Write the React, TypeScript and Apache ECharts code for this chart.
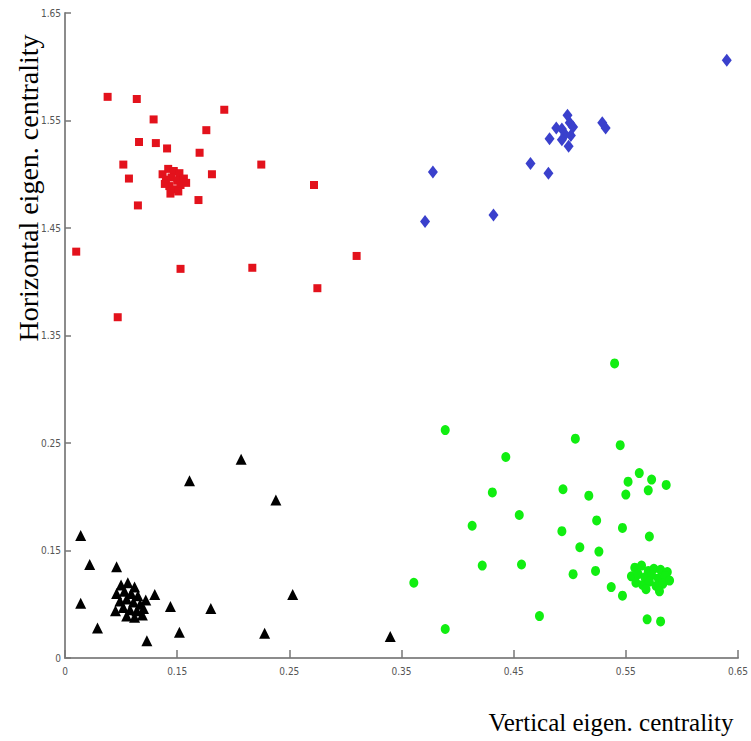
import React, { useEffect, useRef } from "react";
import * as echarts from "echarts";

// Values in real units: [vertical eigen. centrality, horizontal eigen. centrality]
const redSquares: number[][] = [
  [0.088, 1.572], [0.114, 1.570], [0.192, 1.560], [0.129, 1.551], [0.176, 1.541],
  [0.116, 1.530], [0.131, 1.529], [0.141, 1.524], [0.170, 1.520], [0.102, 1.509],
  [0.225, 1.509], [0.107, 1.496], [0.181, 1.500], [0.272, 1.490], [0.115, 1.471],
  [0.169, 1.476], [0.060, 1.428], [0.153, 1.412], [0.217, 1.413], [0.275, 1.394],
  [0.097, 1.367], [0.310, 1.424],
  [0.137, 1.500], [0.142, 1.505], [0.147, 1.503], [0.152, 1.501], [0.140, 1.495],
  [0.145, 1.497], [0.150, 1.494], [0.156, 1.496], [0.143, 1.489], [0.148, 1.486],
  [0.153, 1.490], [0.158, 1.492], [0.144, 1.482], [0.151, 1.484], [0.139, 1.491],
];

const blueDiamonds: number[][] = [
  [0.640, 1.606], [0.498, 1.555], [0.500, 1.548], [0.488, 1.543], [0.493, 1.542],
  [0.503, 1.544], [0.496, 1.537], [0.501, 1.536], [0.493, 1.532], [0.499, 1.526],
  [0.482, 1.533], [0.529, 1.548], [0.532, 1.543], [0.465, 1.510], [0.481, 1.501],
  [0.378, 1.502], [0.371, 1.456], [0.432, 1.462],
];

const blackTriangles: number[][] = [
  [0.207, 0.235], [0.161, 0.215], [0.238, 0.197], [0.064, 0.164], [0.072, 0.137],
  [0.096, 0.135], [0.064, 0.101], [0.130, 0.109], [0.144, 0.098], [0.180, 0.096],
  [0.253, 0.109], [0.079, 0.078], [0.152, 0.074], [0.123, 0.066], [0.228, 0.073],
  [0.340, 0.070],
  [0.100, 0.118], [0.106, 0.120], [0.112, 0.116], [0.096, 0.110], [0.103, 0.112],
  [0.109, 0.110], [0.115, 0.108], [0.099, 0.103], [0.105, 0.105], [0.111, 0.102],
  [0.117, 0.100], [0.102, 0.097], [0.108, 0.095], [0.114, 0.094], [0.120, 0.096],
  [0.105, 0.089], [0.112, 0.088], [0.119, 0.090], [0.095, 0.094], [0.122, 0.104],
];

const greenCircles: number[][] = [
  [0.540, 0.324], [0.389, 0.262], [0.505, 0.254], [0.545, 0.248], [0.443, 0.237],
  [0.562, 0.222], [0.552, 0.214], [0.573, 0.216], [0.586, 0.211], [0.570, 0.206],
  [0.550, 0.202], [0.431, 0.204], [0.494, 0.207], [0.517, 0.201], [0.455, 0.183],
  [0.413, 0.173], [0.524, 0.178], [0.547, 0.171], [0.493, 0.168], [0.571, 0.163],
  [0.509, 0.153], [0.526, 0.149], [0.422, 0.136], [0.457, 0.137], [0.503, 0.128],
  [0.523, 0.131], [0.537, 0.116], [0.547, 0.108], [0.361, 0.120], [0.473, 0.089],
  [0.389, 0.077], [0.569, 0.086], [0.581, 0.084],
  [0.558, 0.134], [0.564, 0.136], [0.570, 0.131], [0.575, 0.133], [0.581, 0.132],
  [0.587, 0.130], [0.555, 0.126], [0.561, 0.128], [0.567, 0.125], [0.573, 0.127],
  [0.579, 0.124], [0.585, 0.126], [0.559, 0.120], [0.565, 0.118], [0.571, 0.121],
  [0.577, 0.117], [0.583, 0.119], [0.589, 0.122], [0.568, 0.114], [0.580, 0.112],
];

const xAxisTitle = "Vertical eigen. centrality";
const yAxisTitle = "Horizontal eigen. centrality";

// The vertical axis is broken: values above 1 are drawn shifted down by 1.
const BREAK_OFFSET = 1;
const toPlot = (pts: number[][]) =>
  pts.map(([x, y]) => [x, y > BREAK_OFFSET ? y - BREAK_OFFSET : y]);

const tickFont = {
  fontFamily: "'Liberation Sans Narrow', 'DejaVu Sans Condensed', 'Liberation Sans', sans-serif",
  fontSize: 10,
  color: "#555",
};

export default function App() {
  const ref = useRef<HTMLDivElement>(null);
  useEffect(() => {
    if (!ref.current) return;
    const chart = echarts.init(ref.current, undefined, { renderer: "svg" });
    const axisLine = { show: true, lineStyle: { color: "#8c8c8c", width: 2 } };
    chart.setOption({
      animation: false,
      backgroundColor: "#ffffff",
      grid: { left: 65, right: 13, top: 13, bottom: 83 },
      xAxis: {
        type: "value",
        min: 0.05,
        max: 0.65,
        interval: 0.1,
        axisLine,
        axisTick: { show: true, inside: true, length: 8, lineStyle: { color: "#777", width: 1.5 } },
        splitLine: { show: false },
        axisLabel: {
          ...tickFont,
          margin: 8,
          formatter: (v: number) => {
            const r = Math.round(v * 100) / 100;
            return r < 0.1 ? "0" : r.toFixed(2);
          },
        },
      },
      yAxis: {
        type: "value",
        min: 0.05,
        max: 0.65,
        interval: 0.1,
        axisLine,
        axisTick: { show: true, inside: true, length: 6, lineStyle: { color: "#777", width: 1.5 } },
        splitLine: { show: false },
        axisLabel: {
          ...tickFont,
          margin: 4,
          formatter: (v: number) => {
            const r = Math.round(v * 100) / 100;
            if (r < 0.1) return "0";
            if (r > 0.3) return (r + BREAK_OFFSET).toFixed(2);
            return r.toFixed(2);
          },
        },
      },
      graphic: [
        {
          type: "text",
          x: 28,
          y: 188,
          rotation: Math.PI / 2,
          style: {
            text: yAxisTitle,
            fontFamily: "'Liberation Serif', 'DejaVu Serif', serif",
            fontSize: 28,
            fill: "#000",
            textAlign: "center",
            textVerticalAlign: "middle",
          },
        },
        {
          type: "text",
          x: 611,
          y: 722,
          style: {
            text: xAxisTitle,
            fontFamily: "'Liberation Serif', 'DejaVu Serif', serif",
            fontSize: 25,
            fill: "#000",
            textAlign: "center",
            textVerticalAlign: "middle",
          },
        },
      ],
      series: [
        {
          type: "scatter",
          data: toPlot(redSquares),
          symbol: "rect",
          symbolSize: 8,
          itemStyle: { color: "#e3121c", opacity: 1 },
        },
        {
          type: "scatter",
          data: toPlot(blueDiamonds),
          symbol: "diamond",
          symbolSize: [10, 13],
          itemStyle: { color: "#3a40cc", opacity: 1 },
        },
        {
          type: "scatter",
          data: toPlot(blackTriangles),
          symbol: "triangle",
          symbolSize: [11, 11],
          itemStyle: { color: "#000000", opacity: 1 },
        },
        {
          type: "scatter",
          data: toPlot(greenCircles),
          symbol: "circle",
          symbolSize: [9, 10],
          itemStyle: { color: "#11ee11", opacity: 1 },
        },
      ],
    });
    return () => chart.dispose();
  }, []);
  return (
    <div
      ref={ref}
      style={{ position: "fixed", left: 0, top: 0, width: 751, height: 741 }}
    />
  );
}
